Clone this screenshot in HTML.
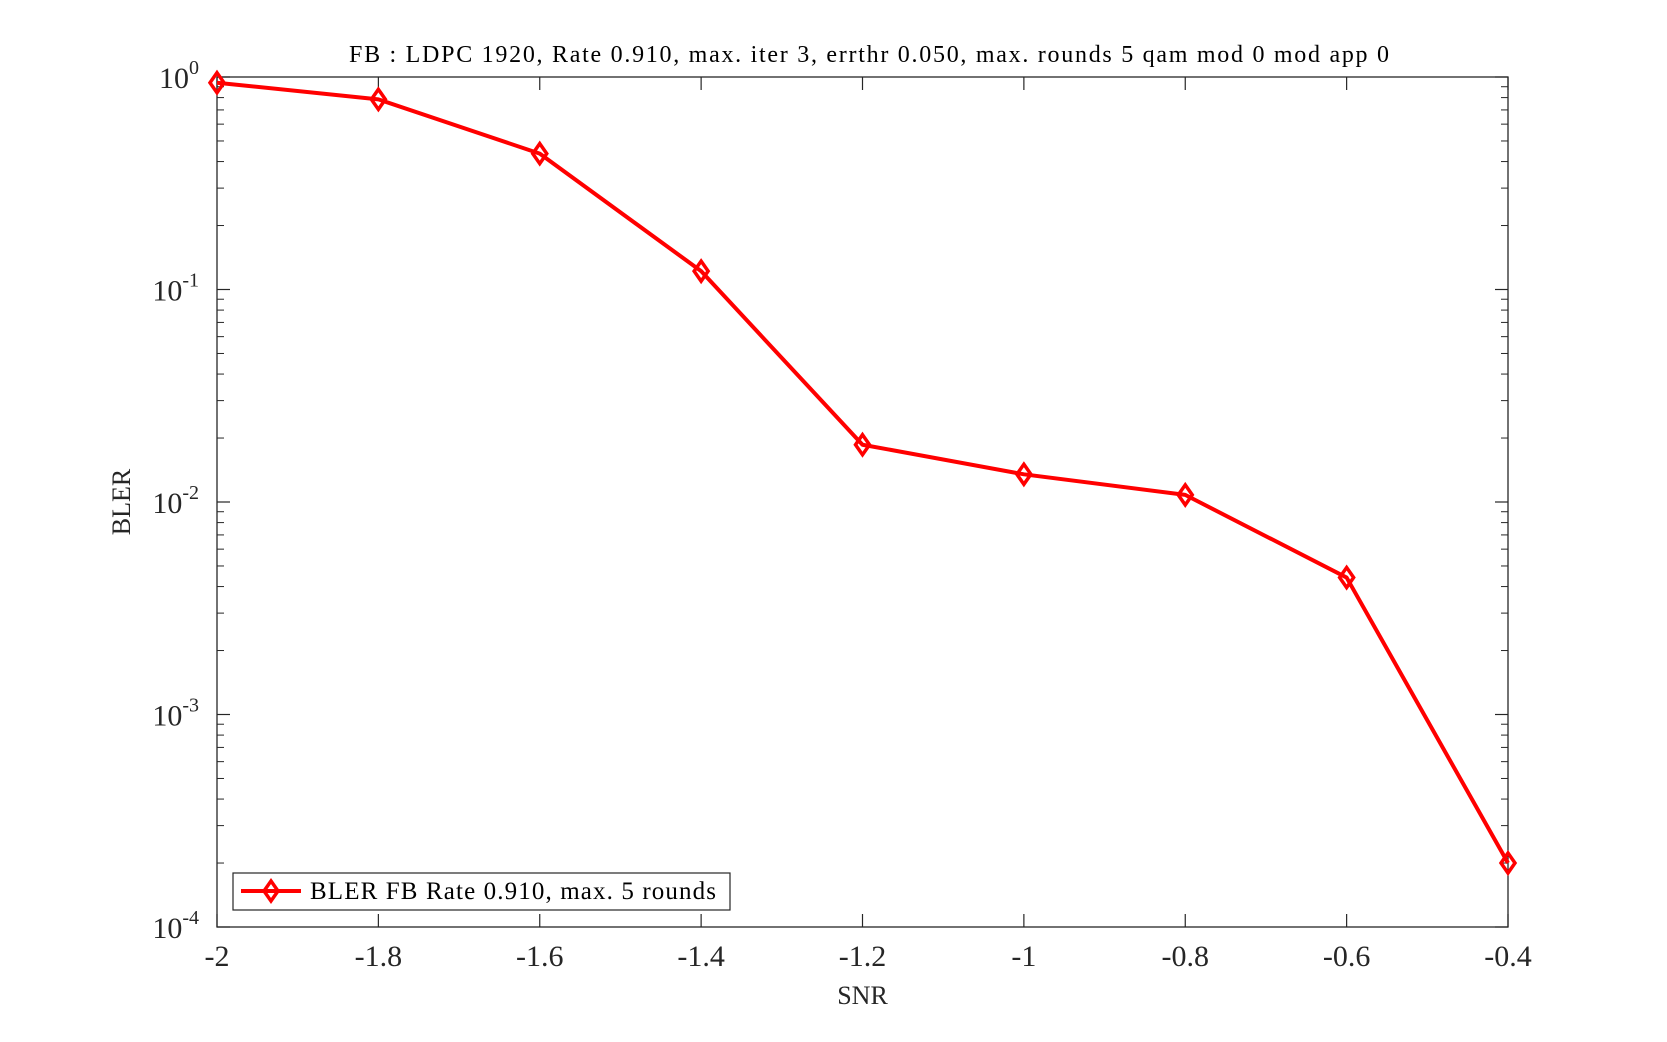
<!DOCTYPE html>
<html><head><meta charset="utf-8"><style>
html,body{margin:0;padding:0;background:#fff;}
svg{display:block;font-family:"Liberation Serif",serif;}
</style></head><body>
<svg id="chart" width="1667" height="1042" xmlns="http://www.w3.org/2000/svg">
<g id="axes"></g>
<g id="series"></g>
</svg>
<script>
const snr = [-2, -1.8, -1.6, -1.4, -1.2, -1, -0.8, -0.6, -0.4];
const bler = [0.94, 0.785, 0.436, 0.122, 0.0186, 0.0135, 0.0108, 0.00441, 0.0002];
const xTicks = [-2, -1.8, -1.6, -1.4, -1.2, -1, -0.8, -0.6, -0.4];
const xTickLabels = ["-2", "-1.8", "-1.6", "-1.4", "-1.2", "-1", "-0.8", "-0.6", "-0.4"];
const yExps = [0, -1, -2, -3, -4];

const L=217, R=1508, T=77, B=927;
const xMin=-2, xMax=-0.4, yMinE=-4, yMaxE=0;
const NS="http://www.w3.org/2000/svg";
function sx(v){return L+(v-xMin)/(xMax-xMin)*(R-L);}
function sy(v){return T+(yMaxE-Math.log10(v))/(yMaxE-yMinE)*(B-T);}
function mk(tag,attrs,parent){const e=document.createElementNS(NS,tag);for(const k in attrs)e.setAttribute(k,attrs[k]);parent.appendChild(e);return e;}
const axes=document.getElementById('axes');
const series=document.getElementById('series');

const frame=mk('rect',{x:L,y:T,width:R-L,height:B-T,fill:'#fff',stroke:'#262626','stroke-width':1.3},axes);



xTicks.forEach((v,i)=>{
  const x=sx(v);
  mk('line',{x1:x,y1:B,x2:x,y2:B-13,stroke:'#262626','stroke-width':1.2},axes);
  mk('line',{x1:x,y1:T,x2:x,y2:T+13,stroke:'#262626','stroke-width':1.2},axes);
  const t=mk('text',{x:x,y:B+39,'text-anchor':'middle','font-size':30,fill:'#262626'},axes);
  t.textContent=xTickLabels[i];
  
  
});

yExps.forEach(e=>{
  const y=sy(Math.pow(10,e));
  mk('line',{x1:L,y1:y,x2:L+13,y2:y,stroke:'#262626','stroke-width':1.2},axes);
  mk('line',{x1:R,y1:y,x2:R-13,y2:y,stroke:'#262626','stroke-width':1.2},axes);
  const t=mk('text',{x:L-18,y:y+11,'text-anchor':'end','font-size':30,fill:'#262626'},axes);
  t.textContent='10';
  const s=mk('tspan',{dy:-14,'font-size':20},t);
  s.textContent=String(e);
  
  
  if(e>yMinE){
    for(let m=2;m<=9;m++){
      const yy=sy(m*Math.pow(10,e-1));
      mk('line',{x1:L,y1:yy,x2:L+7,y2:yy,stroke:'#262626','stroke-width':1},axes);
      mk('line',{x1:R,y1:yy,x2:R-7,y2:yy,stroke:'#262626','stroke-width':1},axes);
    }
  }
});

const title=mk('text',{x:349,y:62,'font-size':24,fill:'#000',textLength:1040,lengthAdjust:'spacing'},axes);
title.textContent='FB : LDPC 1920, Rate 0.910, max. iter 3, errthr 0.050, max. rounds 5 qam mod 0 mod app 0';


const xl=mk('text',{x:(L+R)/2,y:1004,'text-anchor':'middle','font-size':26,fill:'#262626'},axes);
xl.textContent='SNR';


const yl=mk('text',{x:0,y:0,'text-anchor':'middle','font-size':26,fill:'#262626',transform:'translate(130,'+((T+B)/2)+') rotate(-90)'},axes);
yl.textContent='BLER';



const pts=snr.map((v,i)=>sx(v)+','+sy(bler[i])).join(' ');
const line=mk('polyline',{points:pts,fill:'none',stroke:'#ff0000','stroke-width':4,'stroke-linejoin':'round'},series);


snr.forEach((v,i)=>{
  const x=sx(v),y=sy(bler[i]);
  const d=mk('polygon',{points:`${x},${y-10} ${x+7},${y} ${x},${y+10} ${x-7},${y}`,fill:'none',stroke:'#ff0000','stroke-width':3.5},series);
  
  
});

const lg=mk('g',{},axes);


mk('rect',{x:233,y:873,width:497,height:37,fill:'#fff',stroke:'#262626','stroke-width':1.2},lg);
mk('line',{x1:241,y1:891,x2:301,y2:891,stroke:'#ff0000','stroke-width':4},lg);
mk('polygon',{points:'271,881 278,891 271,901 264,891',fill:'none',stroke:'#ff0000','stroke-width':3.5},lg);
const lt=mk('text',{x:310,y:899,'font-size':25,fill:'#000',textLength:406,lengthAdjust:'spacing'},lg);
lt.textContent='BLER FB Rate 0.910, max. 5 rounds';


</script>
</body></html>
